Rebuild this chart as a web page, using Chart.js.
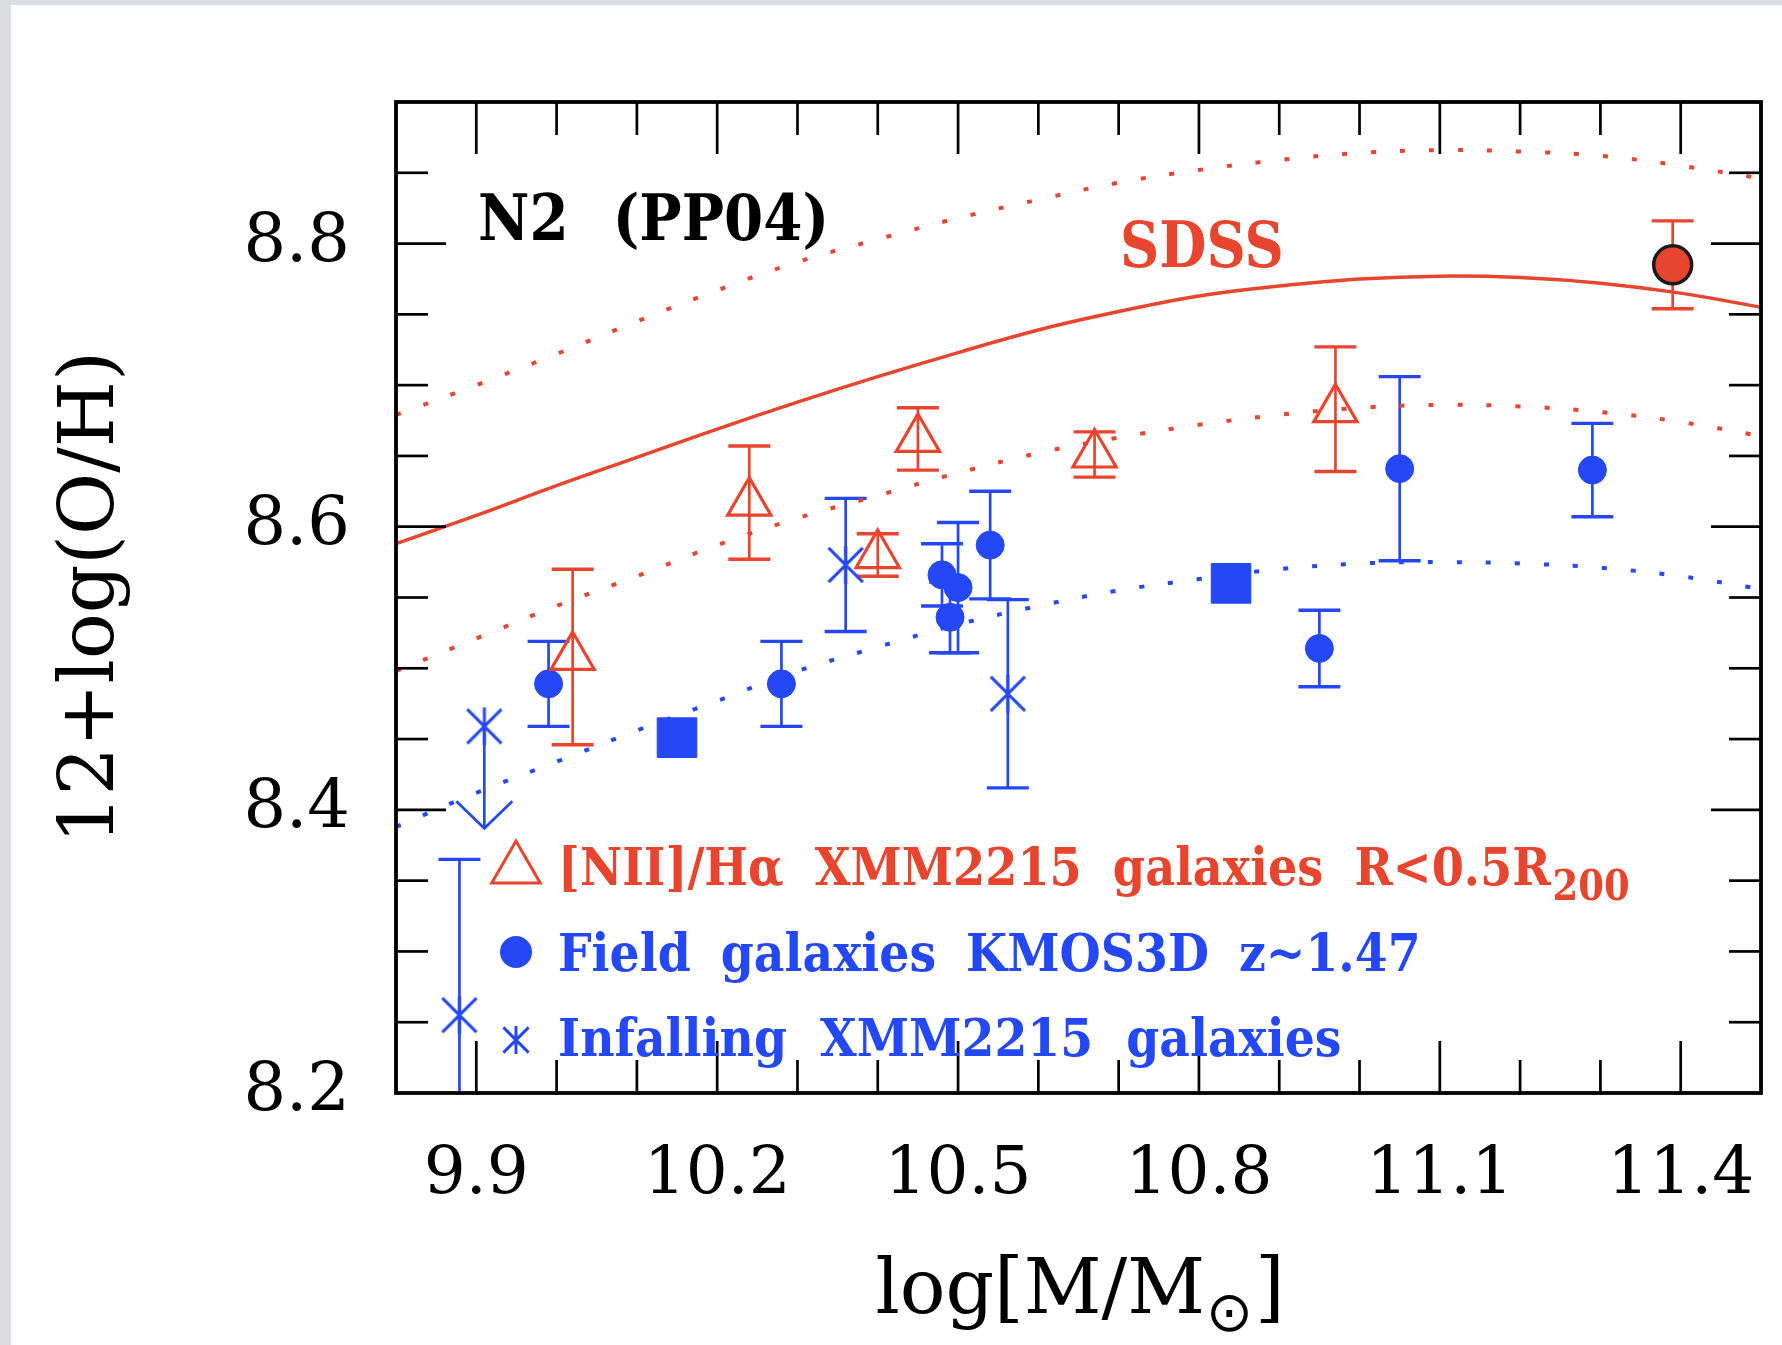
<!DOCTYPE html>
<html>
<head>
<meta charset="utf-8">
<title>N2 (PP04) mass - metallicity</title>
<script src="https://cdn.jsdelivr.net/npm/chart.js@4.4.1/dist/chart.umd.min.js"></script>
<style>
  html, body { margin: 0; padding: 0; background: #dcdde0; }
  #wrap { position: absolute; left: 11px; top: 5px; width: 1771px; height: 1340px; background: #fff; }
</style>
</head>
<body>
<div id="wrap"><canvas id="grafica"></canvas></div>
<script>
const red = '#e8452f';
const blue = '#2448f5';

// axis ticks
const xTickLabels = [9.9, 10.2, 10.5, 10.8, 11.1, 11.4];
const yTickLabels = [8.2, 8.4, 8.6, 8.8];

// SDSS relation and its scatter, plus the field relation
const massGrid = [9.8, 9.9, 10.0, 10.1, 10.2, 10.3, 10.4, 10.5, 10.6, 10.7, 10.8, 10.9, 11.0, 11.1, 11.2, 11.3, 11.4, 11.5];
const sdssFit  = [8.588, 8.608, 8.629, 8.649, 8.669, 8.688, 8.706, 8.723, 8.739, 8.752, 8.763, 8.770, 8.775, 8.777, 8.776, 8.772, 8.765, 8.755];
const sdssHigh = [8.679, 8.700, 8.722, 8.745, 8.767, 8.787, 8.803, 8.818, 8.831, 8.843, 8.852, 8.859, 8.864, 8.866, 8.865, 8.862, 8.855, 8.846];
const sdssLow  = [8.498, 8.521, 8.544, 8.565, 8.587, 8.606, 8.622, 8.638, 8.652, 8.663, 8.672, 8.679, 8.684, 8.686, 8.685, 8.681, 8.674, 8.664];
const fieldFit = [8.388, 8.412, 8.434, 8.456, 8.477, 8.498, 8.515, 8.531, 8.544, 8.555, 8.563, 8.570, 8.574, 8.575, 8.574, 8.571, 8.565, 8.556];

// [NII]/Ha XMM2215 cluster galaxies
const clusterX   = [10.02, 10.24, 10.40, 10.45, 10.67, 10.97];
const clusterY   = [8.508, 8.617, 8.580, 8.662, 8.651, 8.683];
const clusterErr = [0.062, 0.040, 0.015, 0.022, 0.016, 0.044];

// field galaxies KMOS3D
const fieldX   = [9.99, 10.28, 10.48, 10.49, 10.50, 10.54, 10.95, 11.05, 11.29];
const fieldY   = [8.489, 8.489, 8.566, 8.536, 8.557, 8.587, 8.514, 8.641, 8.640];
const fieldErr = [0.030, 0.030, 0.022, 0.025, 0.046, 0.038, 0.027, 0.065, 0.033];

// stacked field points
const stackX = [10.15, 10.84];
const stackY = [8.451, 8.560];

// infalling galaxies
const infallX   = [9.879, 10.36, 10.562];
const infallY   = [8.255, 8.573, 8.482];
const infallErr = [0.11, 0.047, 0.0665];
const limitX  = [9.91];
const limitY  = [8.459];
const limitTo = [8.387];

// SDSS reference point
const sdssPtX   = [11.39];
const sdssPtY   = [8.785];
const sdssPtErr = [0.031];

const pts = (xs, ys) => xs.map((v, i) => ({x: v, y: ys[i]}));

function asterisk(size, r, lw) {
  const c = document.createElement('canvas');
  c.width = c.height = size;
  const g = c.getContext('2d');
  const m = size / 2, d = r * 0.9;
  g.strokeStyle = blue;
  g.lineWidth = lw;
  g.beginPath();
  g.moveTo(m, m - r); g.lineTo(m, m + r);
  g.moveTo(m - d, m - d); g.lineTo(m + d, m + d);
  g.moveTo(m + d, m - d); g.lineTo(m - d, m + d);
  g.stroke();
  return c;
}
const star = asterisk(44, 19, 3);
const starSmall = asterisk(34, 14, 3);

const errorBars = {
  id: 'errorBars',
  beforeDatasetsDraw(chart) {
    const {ctx, chartArea: a, scales: {x, y}} = chart;
    ctx.save();
    ctx.beginPath();
    ctx.rect(a.left, a.top, a.right - a.left, a.bottom - a.top);
    ctx.clip();
    const seg = (x1, y1, x2, y2) => { ctx.beginPath(); ctx.moveTo(x1, y1); ctx.lineTo(x2, y2); ctx.stroke(); };
    chart.data.datasets.forEach(ds => {
      if (!ds.yErr) return;
      ctx.strokeStyle = ds.errColor;
      ds.data.forEach((p, i) => {
        const px = x.getPixelForValue(p.x);
        const lo = y.getPixelForValue(p.y - ds.yErr[i]);
        const hi = y.getPixelForValue(p.y + ds.yErr[i]);
        ctx.lineWidth = 2.7;
        seg(px, lo, px, hi);
        ctx.lineWidth = 3.4;
        seg(px - 21, lo, px + 21, lo);
        seg(px - 21, hi, px + 21, hi);
      });
    });
    // upper limit arrows
    ctx.strokeStyle = blue;
    ctx.lineWidth = 2.7;
    limitX.forEach((v, i) => {
      const px = x.getPixelForValue(v);
      const top = y.getPixelForValue(limitY[i]);
      const tip = y.getPixelForValue(limitTo[i]);
      seg(px, top, px, tip);
      ctx.beginPath();
      ctx.moveTo(px - 28, tip - 27);
      ctx.lineTo(px, tip);
      ctx.lineTo(px + 28, tip - 27);
      ctx.stroke();
    });
    ctx.restore();
  }
};

const frameTicks = {
  id: 'frameTicks',
  afterDraw(chart) {
    const {ctx, chartArea: a, scales: {x, y}} = chart;
    ctx.save();
    ctx.strokeStyle = '#000';
    ctx.lineWidth = 2.7;
    const seg = (x1, y1, x2, y2) => { ctx.beginPath(); ctx.moveTo(x1, y1); ctx.lineTo(x2, y2); ctx.stroke(); };
    for (let i = 1; i < 17; i++) {
      const v = 9.8 + i * 0.1;
      const big = xTickLabels.some(t => Math.abs(t - v) < 1e-6);
      const len = big ? 52 : 33;
      const px = x.getPixelForValue(v);
      seg(px, a.bottom, px, a.bottom - len);
      seg(px, a.top, px, a.top + len);
    }
    for (let i = 1; i < 14; i++) {
      const v = 8.2 + i * 0.05;
      const big = yTickLabels.some(t => Math.abs(t - v) < 1e-6);
      const len = big ? 50 : 32;
      const py = y.getPixelForValue(v);
      seg(a.left, py, a.left + len, py);
      seg(a.right, py, a.right - len, py);
    }
    ctx.lineWidth = 3.8;
    ctx.strokeRect(a.left, a.top, a.right - a.left, a.bottom - a.top);
    ctx.restore();
  }
};

// words drawn one by one, squeezed a little, with the wide gaps of the original
function words(ctx, list, x, y, gap, sx) {
  list.forEach(w => {
    ctx.save();
    ctx.translate(x, y);
    ctx.scale(sx, 1);
    ctx.fillText(w, 0, 0);
    ctx.restore();
    x += ctx.measureText(w).width * sx + gap;
  });
  return x - gap;
}

const labels = {
  id: 'labels',
  afterDraw(chart) {
    const {ctx, chartArea: a} = chart;
    ctx.save();
    ctx.textBaseline = 'alphabetic';
    ctx.textAlign = 'left';

    ctx.fillStyle = '#000';
    ctx.font = 'bold 64px "DejaVu Serif"';
    words(ctx, ['N2', '(PP04)'], a.left + 82, a.top + 138, 44, 0.88);

    ctx.fillStyle = red;
    words(ctx, ['SDSS'], a.left + 724, a.top + 165, 0, 0.85);

    // legend
    const sx = a.left + 120;
    ctx.strokeStyle = red;
    ctx.lineWidth = 3;
    const cy = a.top + 767, r = 28;
    ctx.beginPath();
    ctx.moveTo(sx, cy - r);
    ctx.lineTo(sx + r * 0.866, cy + r / 2);
    ctx.lineTo(sx - r * 0.866, cy + r / 2);
    ctx.closePath();
    ctx.stroke();

    ctx.font = 'bold 52px "DejaVu Serif"';
    const tx = a.left + 162;
    let end = words(ctx, ['[NII]/H\u03b1', 'XMM2215', 'galaxies', 'R<0.5R'], tx, a.top + 783, 31, 0.89);
    ctx.font = 'bold 42px "DejaVu Serif"';
    words(ctx, ['200'], end + 2, a.top + 798, 0, 0.88);

    ctx.fillStyle = blue;
    ctx.beginPath();
    ctx.arc(sx, a.top + 850, 16, 0, Math.PI * 2);
    ctx.fill();
    ctx.font = 'bold 52px "DejaVu Serif"';
    words(ctx, ['Field', 'galaxies', 'KMOS3D', 'z~1.47'], tx, a.top + 869, 30, 0.91);

    ctx.drawImage(starSmall, sx - 17, a.top + 938 - 17);
    words(ctx, ['Infalling', 'XMM2215', 'galaxies'], tx, a.top + 954, 33, 0.91);

    // x axis title with the solar subscript
    ctx.fillStyle = '#000';
    ctx.font = '76px "DejaVu Serif"';
    const main = 'log[M/M', sub = '\u2299', tail = ']';
    const w1 = ctx.measureText(main).width, w3 = ctx.measureText(tail).width;
    ctx.font = '56px "DejaVu Sans"';
    const w2 = ctx.measureText(sub).width;
    let x0 = (a.left + a.right) / 2 - (w1 + w2 + w3 + 4) / 2 + 2;
    const base = a.bottom + 220;
    ctx.font = '76px "DejaVu Serif"';
    ctx.fillText(main, x0, base);
    ctx.font = '56px "DejaVu Sans"';
    ctx.fillText(sub, x0 + w1 + 1, base + 18);
    ctx.font = '76px "DejaVu Serif"';
    ctx.fillText(tail, x0 + w1 + w2 + 3, base);
    ctx.restore();
  }
};

const lineStyle = (data, color, dotted) => ({
  type: 'line',
  data: pts(massGrid, data),
  borderColor: color,
  borderWidth: dotted ? 4 : 3.5,
  borderDash: dotted ? [5, 24] : [],
  borderCapStyle: 'butt',
  pointRadius: 0,
  tension: 0.4,
  fill: false
});

const graph = document.querySelector('#grafica');

new Chart(graph, {
  type: 'scatter',
  data: {
    datasets: [
      {
        data: pts(sdssPtX, sdssPtY), yErr: sdssPtErr, errColor: red,
        pointStyle: 'circle', pointRadius: 19, backgroundColor: red,
        borderColor: '#1a1a1a', borderWidth: 3.5
      },
      {
        data: pts(clusterX, clusterY), yErr: clusterErr, errColor: red,
        pointStyle: 'triangle', pointRadius: 25, backgroundColor: 'rgba(0,0,0,0)',
        borderColor: red, borderWidth: 3.2
      },
      {
        data: pts(fieldX, fieldY), yErr: fieldErr, errColor: blue,
        pointStyle: 'circle', pointRadius: 14, backgroundColor: blue,
        borderColor: blue, borderWidth: 1
      },
      {
        data: pts(infallX, infallY), yErr: infallErr, errColor: blue,
        pointStyle: star, pointRadius: 10
      },
      {
        data: pts(limitX, limitY),
        pointStyle: star, pointRadius: 10
      },
      {
        data: pts(stackX, stackY),
        pointStyle: 'rect', pointRadius: 28, backgroundColor: blue,
        borderColor: blue, borderWidth: 1
      },
      lineStyle(sdssFit, red, false),
      lineStyle(sdssHigh, red, true),
      lineStyle(sdssLow, red, true),
      lineStyle(fieldFit, blue, true)
    ]
  },
  options: {
    responsive: true,
    maintainAspectRatio: false,
    animation: false,
    events: [],
    layout: { autoPadding: false, padding: { top: 97, right: 21, left: 0, bottom: 0 } },
    plugins: { legend: { display: false }, tooltip: { enabled: false } },
    scales: {
      x: {
        type: 'linear', min: 9.8, max: 11.5,
        grid: { display: false }, border: { display: false },
        ticks: {
          color: '#000', padding: 0, autoSkip: false, maxRotation: 0,
          font: { family: 'DejaVu Serif', size: 66, lineHeight: 2.26 },
          callback: v => v.toFixed(1)
        },
        afterBuildTicks: s => { s.ticks = xTickLabels.map(v => ({value: v})); },
        afterFit: s => { s.height = 252; s.paddingLeft = 0; s.paddingRight = 0; }
      },
      y: {
        type: 'linear', min: 8.2, max: 8.9,
        grid: { display: false }, border: { display: false },
        ticks: {
          color: '#000', padding: 38, autoSkip: false,
          font: { family: 'DejaVu Serif', size: 67 },
          callback: v => v.toFixed(1)
        },
        title: {
          display: true, text: '12+log(O/H)', color: '#000',
          font: { family: 'DejaVu Serif', size: 76 },
          padding: { top: 37, bottom: 0 }
        },
        afterBuildTicks: s => { s.ticks = yTickLabels.map(v => ({value: v})); },
        afterFit: s => { s.width = 385; s.paddingTop = 0; s.paddingBottom = 0; }
      }
    }
  },
  plugins: [errorBars, frameTicks, labels]
});
</script>
</body>
</html>
